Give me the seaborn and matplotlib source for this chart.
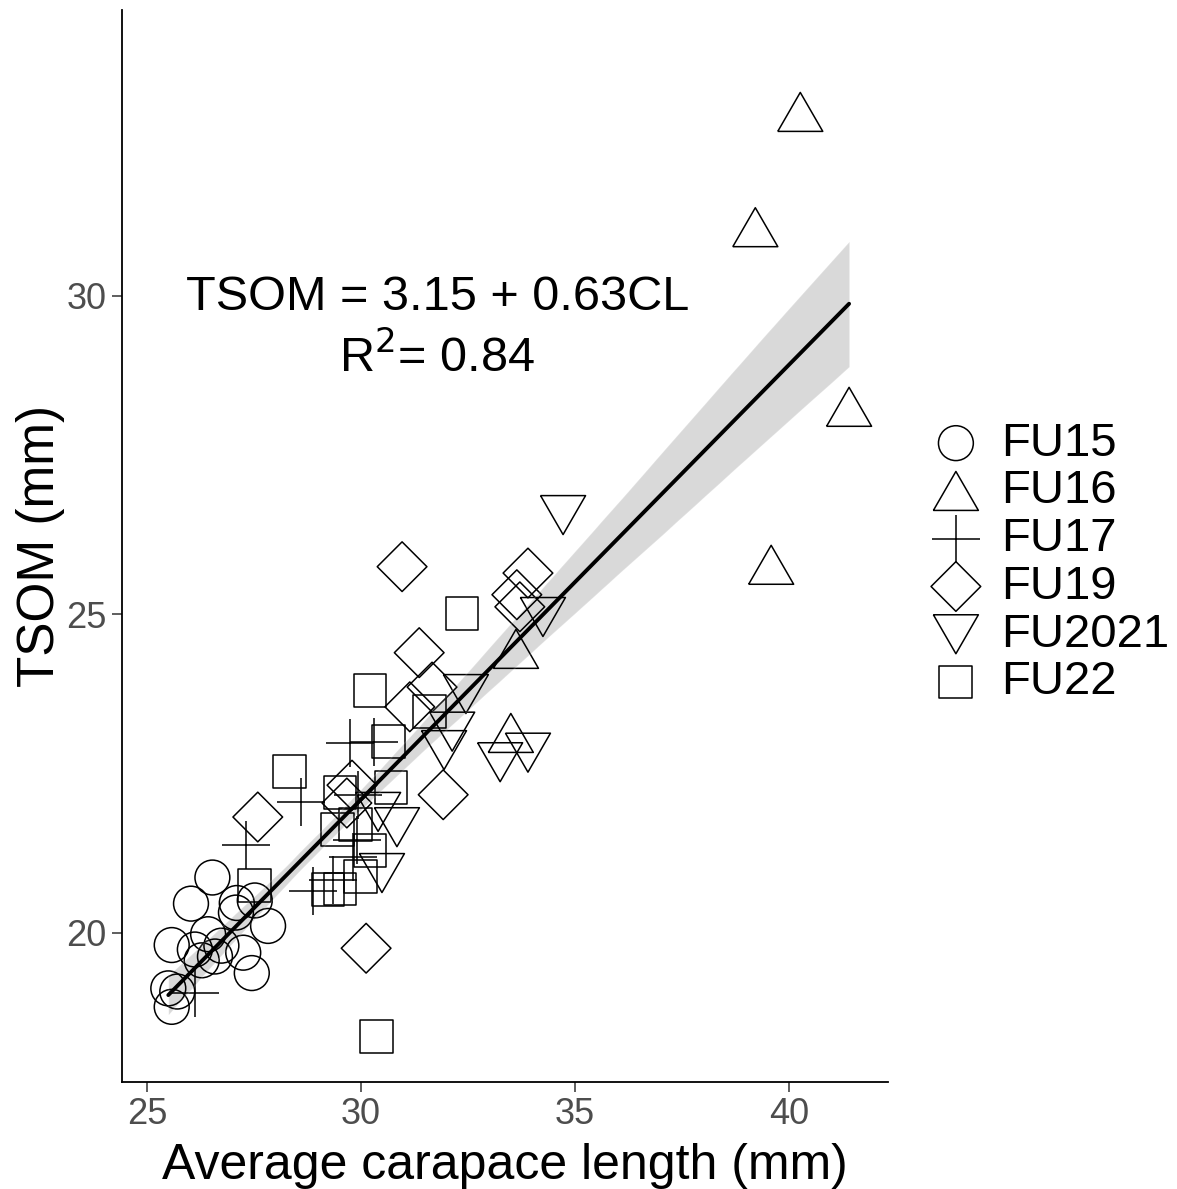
import numpy as np
import pandas as pd
import matplotlib
matplotlib.use("Agg")
import matplotlib.pyplot as plt
import seaborn as sns

# ---- data ----
fu15_cl = [26.53, 26.03, 27.10, 27.52, 27.08, 27.83, 26.43, 25.58, 26.12, 26.74, 27.25, 26.28, 26.59, 27.45, 25.50, 25.71, 25.58]
fu15_ts = [20.87, 20.46, 20.47, 20.51, 20.32, 20.11, 19.98, 19.81, 19.74, 19.80, 19.69, 19.57, 19.63, 19.37, 19.13, 19.08, 18.84]

fu16_cl = [40.26, 39.21, 41.40, 39.58, 33.62, 33.50]
fu16_ts = [32.89, 31.08, 28.26, 25.78, 24.46, 23.14]

fu17_cl = [26.12, 27.31, 28.60, 29.74, 30.30, 29.93, 29.81, 28.88, 29.35, 29.91]
fu17_ts = [19.06, 21.38, 22.06, 22.98, 23.00, 22.17, 21.19, 20.66, 20.83, 21.46]

fu19_cl = [30.96, 31.36, 31.66, 31.14, 27.59, 30.12, 31.92, 29.79, 29.67, 33.90, 33.64, 33.71]
fu19_ts = [25.75, 24.40, 23.86, 23.55, 21.82, 19.76, 22.17, 22.32, 22.04, 25.65, 25.31, 25.12]

fu2021_cl = [34.72, 34.25, 32.45, 33.25, 33.90, 32.13, 31.94, 30.84, 30.49, 30.40]
fu2021_ts = [26.56, 24.96, 23.75, 22.68, 22.83, 23.16, 22.87, 21.66, 20.94, 21.90]

fu22_cl = [32.36, 30.21, 28.34, 27.52, 30.37, 30.65, 29.51, 30.70, 29.46, 29.88, 31.61, 30.21, 29.98, 29.51, 29.23]
fu22_ts = [25.02, 23.81, 22.53, 20.75, 18.37, 23.01, 22.20, 22.29, 21.62, 21.70, 23.47, 21.30, 20.89, 20.69, 20.68]

groups = ["FU15", "FU16", "FU17", "FU19", "FU2021", "FU22"]
cls = [fu15_cl, fu16_cl, fu17_cl, fu19_cl, fu2021_cl, fu22_cl]
tss = [fu15_ts, fu16_ts, fu17_ts, fu19_ts, fu2021_ts, fu22_ts]

x_ticks = [25, 30, 35, 40]
y_ticks = [20, 25, 30]

df = pd.concat([pd.DataFrame({"CL": c, "TSOM": t, "FU": g}) for g, c, t in zip(groups, cls, tss)],
               ignore_index=True)

# ---- style ----
sns.set_theme(style="ticks")
plt.rcParams["font.family"] = ["Liberation Sans", "DejaVu Sans"]
plt.rcParams["text.color"] = "black"

tri_up = [(-1, -0.866), (1, -0.866), (0, 0.866), (-1, -0.866)]
tri_dn = [(-1, 0.866), (1, 0.866), (0, -0.866), (-1, 0.866)]
markers = {"FU15": "o", "FU16": tri_up, "FU17": "+", "FU19": "D", "FU2021": tri_dn, "FU22": "s"}
sizes = {"FU15": 630, "FU16": 1050, "FU17": 1150, "FU19": 640, "FU2021": 1050, "FU22": 560}

fig = plt.figure(figsize=(11.77, 11.89), dpi=100)
ax = fig.add_axes([0.1037, 0.09, 0.7545 - 0.1037, 0.9916 - 0.09])

for g in groups:
    sub = df[df["FU"] == g]
    if g == "FU17":
        sns.scatterplot(data=sub, x="CL", y="TSOM", marker=markers[g], s=sizes[g],
                        color="black", linewidth=1.1, ax=ax, label=g)
    else:
        sns.scatterplot(data=sub, x="CL", y="TSOM", marker=markers[g], s=sizes[g],
                        facecolor="none", edgecolor="black", linewidth=1.1, ax=ax, label=g)

sns.regplot(data=df, x="CL", y="TSOM", scatter=False, color="black", ci=75,
            line_kws={"lw": 2.8}, ax=ax, truncate=True)

ax.set_xlim(24.42, 42.31)
ax.set_ylim(17.66, 34.49)
ax.set_xticks(x_ticks)
ax.set_yticks(y_ticks)
ax.tick_params(axis="both", labelsize=26, labelcolor="#4D4D4D", length=7, width=1.1, color="#333333", pad=4)
ax.set_xlabel("Average carapace length (mm)", fontsize=36, color="black", labelpad=8)
ax.set_ylabel("TSOM (mm)", fontsize=37, color="black", labelpad=1)
sns.despine(ax=ax)
for s in ["left", "bottom"]:
    ax.spines[s].set_linewidth(1.3)
    ax.spines[s].set_color("black")

ax.text(31.78, 29.97, "TSOM = 3.15 + 0.63CL", fontsize=35, ha="center", va="center", color="black")
ax.text(31.78, 29.04, "R$^{2}$= 0.84", fontsize=35, ha="center", va="center", color="black")

handles, labels = ax.get_legend_handles_labels()
if ax.legend_:
    ax.legend_.remove()
fig.legend(handles, labels, loc="center left", bbox_to_anchor=(0.764, 0.5265), frameon=False,
           fontsize=34, labelspacing=0.08, handletextpad=0.25, handlelength=1.4, borderpad=0)

fig.savefig("out.png", dpi=100)
